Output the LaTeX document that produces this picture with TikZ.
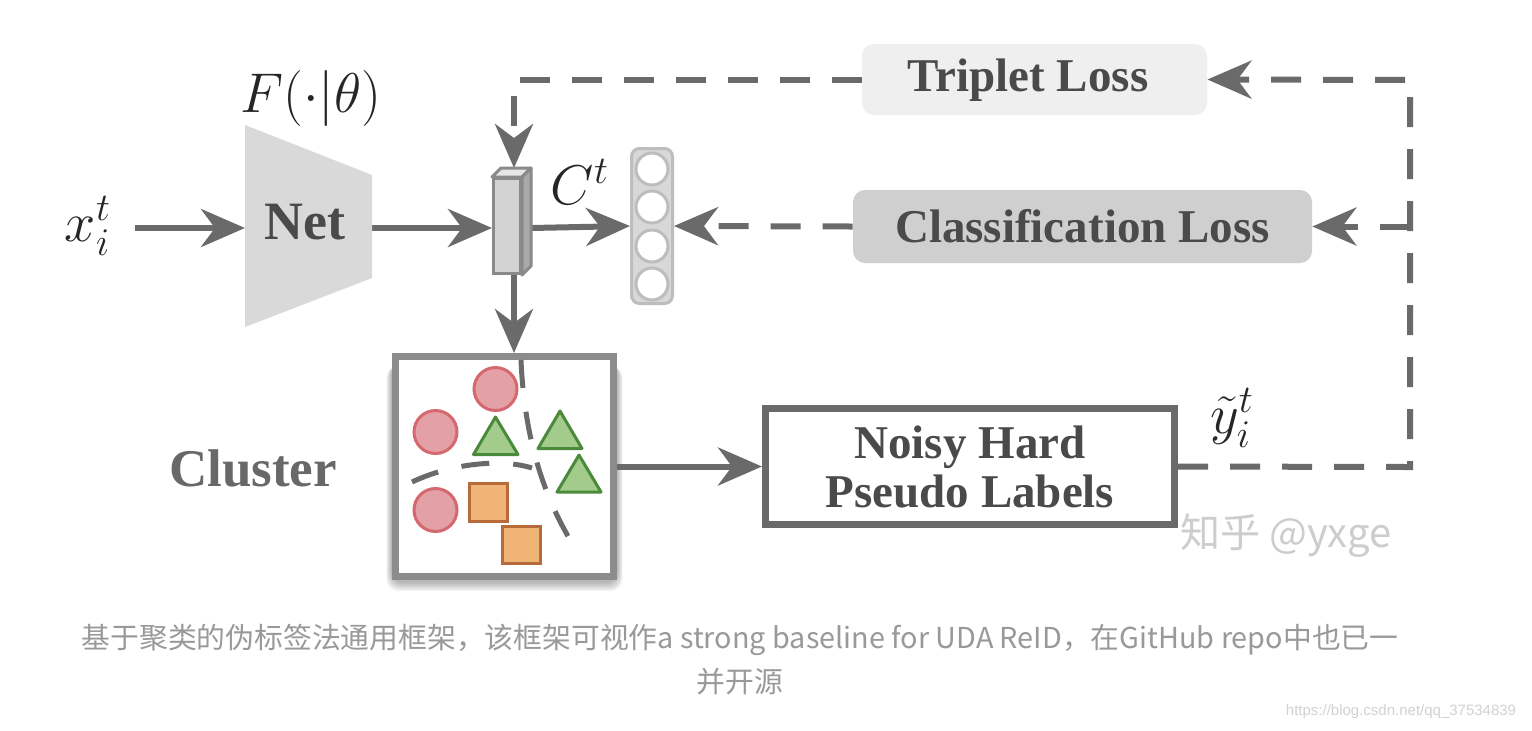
\RequirePackage{fix-cm}
\documentclass[tikz,border=0pt]{standalone}
\usepackage{fontspec}
\setmainfont{Liberation Serif}
\newfontfamily\cjkfont{Noto Sans CJK SC}
\newfontfamily\urlfont{Liberation Sans}
\usetikzlibrary{arrows.meta,calc}
\pgfdeclarelayer{back}
\pgfdeclarelayer{bg}
\pgfsetlayers{back,bg,main}
\definecolor{ln}{HTML}{6A6A6A}
\definecolor{txt}{HTML}{4A4A4A}
\definecolor{clustxt}{HTML}{686868}
\definecolor{netfill}{HTML}{D9D9D9}
\definecolor{vecfront}{HTML}{D3D3D3}
\definecolor{vectop}{HTML}{E6E6E6}
\definecolor{vecside}{HTML}{A9A9A9}
\definecolor{vecline}{HTML}{8A8A8A}
\definecolor{outfill}{HTML}{D8D8D8}
\definecolor{outline}{HTML}{BDBDBD}
\definecolor{tripfill}{HTML}{EFEFEF}
\definecolor{clsfill}{HTML}{CFCFCF}
\definecolor{clusline}{HTML}{8C8C8C}
\definecolor{pinkfill}{HTML}{E3A0A6}
\definecolor{pinkline}{HTML}{D4686E}
\definecolor{greenfill}{HTML}{A3CB8B}
\definecolor{greenline}{HTML}{4B8A3C}
\definecolor{orangefill}{HTML}{F0B477}
\definecolor{orangeline}{HTML}{B76A3A}
\definecolor{captxt}{HTML}{999999}
\definecolor{wmtxt}{HTML}{CDCDCD}
\definecolor{urltxt}{HTML}{D2D2D2}
\tikzset{
  arr/.style={line width=3pt, draw=ln, -{Stealth[length=22pt,width=19pt,inset=7pt]}},
  dsh/.style={arr, dash pattern=on 15pt off 11pt},
  lbl/.style={font=\bfseries\fontsize{23.5}{24.5}\selectfont, text=txt},
  mth/.style={font=\fontsize{28}{30}\selectfont, text=black!85},
  pinkdot/.style={fill=pinkfill, draw=pinkline, line width=1.5pt},
  greentri/.style={fill=greenfill, draw=greenline, line width=1.5pt, line join=round},
  orangesq/.style={fill=orangefill, draw=orangeline, line width=1.5pt},
  clusdash/.style={draw=ln, line width=2.5pt, dash pattern=on 14pt off 12pt},
  softshadow/.style={fill=black, opacity=0.045, rounded corners=6pt}
}
\begin{document}
\begin{tikzpicture}[x=0.5pt,y=-0.5pt]
\begin{pgfonlayer}{back}
\fill[white] (0,0) rectangle (1532,730);
\end{pgfonlayer}
\useasboundingbox (0,0) rectangle (1532,730);

% input
\node[mth] (xi) at (88,226) {$x_i^t$};
\coordinate (xout) at (135,228);

% Net
\fill[netfill] (245,125) -- (372,175) -- (372,278) -- (245,327) -- cycle;
\node[font=\bfseries\fontsize{27}{28}\selectfont, text=txt] (net) at (305,222) {Net};
\node[mth] (flab) at (311,98) {$F(\cdot|\theta)$};
\coordinate (netL) at (245,228);
\coordinate (netR) at (372,228);

% feature vector (3D bar)
\filldraw[fill=vectop, draw=vecline, line width=1.5pt, line join=round] (492,177) -- (501,168) -- (531,168) -- (522,177) -- cycle;
\filldraw[fill=vecside, draw=vecline, line width=1.5pt, line join=round] (522,177) -- (531,168) -- (531,266) -- (522,275) -- cycle;
\node[fill=vecfront, draw=vecline, line width=1.5pt, minimum width=13.5pt, minimum height=47.5pt, inner sep=0pt] (vec) at (507,226) {};
\coordinate (vecin) at (492,228);
\coordinate (vecout) at (531,228);
\coordinate (vectopc) at (514,168);
\coordinate (vecbot) at (514,275);
\node[mth] (ct) at (580,182) {$C^t$};

% output layer
\node[fill=outfill, draw=outline, line width=1.5pt, rounded corners=4pt, minimum width=20.5pt, minimum height=77.5pt, inner sep=0pt] (out) at (652,226) {};
\foreach \yy in {169,207,246,284} {
  \draw[fill=white, draw=outline, line width=1.5pt] (652,\yy) circle[radius=16];
}

% losses
\node[fill=tripfill, rounded corners=6pt, minimum width=172.5pt, minimum height=35.5pt, inner sep=0pt] (trip) at (1034.5,79.5) {};
\node[lbl] (triptxt) at (1028,80) {Triplet Loss};
\node[fill=clsfill, rounded corners=6pt, minimum width=229.5pt, minimum height=36.5pt, inner sep=0pt, lbl] (cls) at (1082.5,226.5) {Classification Loss};

% cluster box with soft shadow
\begin{pgfonlayer}{bg}
\foreach \s in {1,2,...,7} {
  \fill[softshadow] ({392-0.8*\s},{362+0.6*\s}) rectangle ({617+0.8*\s},{582+1.3*\s});
}
\end{pgfonlayer}
\node[draw=clusline, line width=3.5pt, fill=white, minimum width=109pt, minimum height=110pt, inner sep=0pt] (clus) at (504.5,466.5) {};
\node[font=\bfseries\fontsize{26.5}{28}\selectfont, text=clustxt] (cluslab) at (253,468) {Cluster};

% cluster contents
\draw[clusdash] (521,360) .. controls (524,430) and (540,490) .. (572,543);
\draw[clusdash] (412,482) .. controls (450,464) and (500,458) .. (532,468);
\draw[pinkdot] (495.5,389) circle[radius=21.5];
\draw[pinkdot] (435.5,432) circle[radius=21.5];
\draw[pinkdot] (435.5,510) circle[radius=21.5];
\draw[greentri] (495.5,417) -- (518,454.5) -- (473.5,454.5) -- cycle;
\draw[greentri] (560,411) -- (582,448.5) -- (538,448.5) -- cycle;
\draw[greentri] (579,455) -- (601,492) -- (557,492) -- cycle;
\draw[orangesq] (469.5,483.5) rectangle (507.5,521);
\draw[orangesq] (502.5,526) rectangle (540.5,563);

% pseudo labels
\node[draw=ln, line width=3.5pt, fill=white, minimum width=204.5pt, minimum height=58pt, inner sep=0pt, align=center, lbl] (noisy) at (970,466.5) {Noisy Hard\\Pseudo Labels};
\node[mth] (ylab) at (1232,418) {$\tilde{y}_i^t$};
\coordinate (rb) at (1410,467);
\coordinate (rt) at (1410,80);

% watermark and caption
\node[font=\cjkfont\fontsize{20}{22}\selectfont, text=wmtxt] (wm) at (1286,536) {知乎 @yxge};
\node[font=\cjkfont\fontsize{14.4}{22}\selectfont, text=captxt, align=center] (cap) at (740,660)
  {基于聚类的伪标签法通用框架，该框架可视作a strong baseline for UDA ReID，在GitHub repo中也已一\\并开源};
\node[font=\urlfont\fontsize{7.5}{9}\selectfont, text=urltxt] (url) at (1401,712) {https://blog.csdn.net/qq\_37534839};

% connectors
\begin{pgfonlayer}{bg}
\draw[arr] (xout) -- (netL);
\draw[arr] (netR) -- (vecin);
\draw[arr] (vecout) -- (out.west);
\draw[arr] (vecbot) -- (vecbot |- clus.north);
\draw[arr] (clus.east) -- (noisy.west);
\draw[dsh] (trip.west) -| (vectopc);
\draw[dsh] (cls.west) -- (out.east);
\draw[dsh] (noisy.east) -- (rb) -- (rt) -- (trip.east);
\draw[dsh] (rb |- cls.east) -- (cls.east);
\end{pgfonlayer}
\end{tikzpicture}
\end{document}
